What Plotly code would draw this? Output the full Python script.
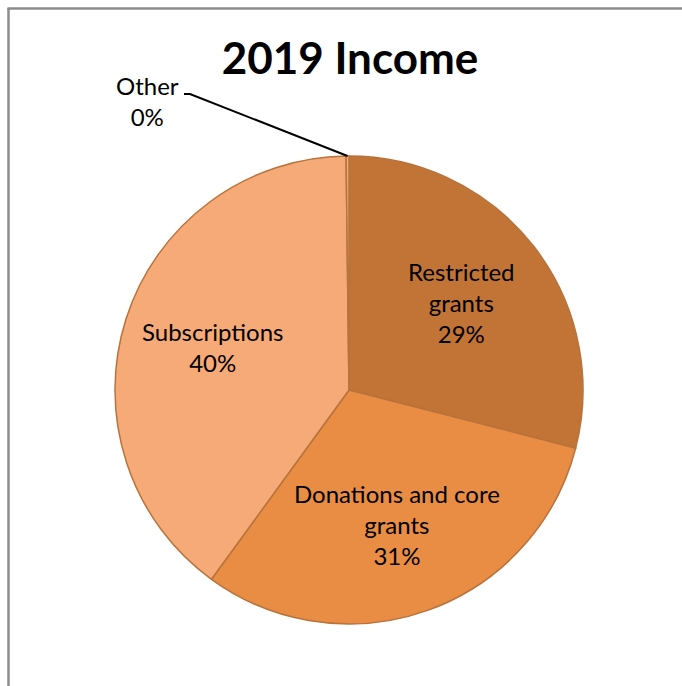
import math
import plotly.graph_objects as go

labels = ["Restricted grants", "Donations and core grants", "Subscriptions", "Other"]
display_labels = ["Restricted<br>grants", "Donations and core<br>grants", "Subscriptions", "Other"]
values = [29.0, 31.0, 39.8, 0.2]
colors = ["#C27436", "#E98D44", "#F6AA78", "#F6AA78"]
title_text = "2019 Income"

W, H = 682, 686
cx_px, cy_px, r_px = 349, 390, 234
label_r = 0.61
FONT = "Lato"

fig = go.Figure(go.Pie(
    labels=labels,
    values=values,
    sort=False,
    direction="clockwise",
    rotation=0,
    marker=dict(colors=colors, line=dict(color="#B8733C", width=1.5)),
    textinfo="none",
    hoverinfo="label+percent",
    showlegend=False,
    domain=dict(x=[(cx_px - r_px) / W, (cx_px + r_px) / W],
                y=[(H - cy_px - r_px) / H, (H - cy_px + r_px) / H]),
))


def px(x):
    return x / W


def py(y):
    return 1 - y / H


total = sum(values)
cum = 0.0
for i, v in enumerate(values):
    mid = (cum + v / 2) / total
    cum += v
    pct = round(v / total * 100)
    if i == 3:
        continue
    th = 2 * math.pi * mid
    lx = cx_px + label_r * r_px * math.sin(th)
    ly = cy_px - label_r * r_px * math.cos(th)
    fig.add_annotation(x=px(lx), y=py(ly), xref="paper", yref="paper",
                       text=f"{display_labels[i]}<br>{pct}%", showarrow=False,
                       font=dict(family=FONT, size=24, color="black"),
                       xanchor="center", yanchor="middle")

# leader line for the tiny "Other" slice, computed from data
mid_frac = (sum(values[:3]) + values[3] / 2) / total
theta = 2 * math.pi * mid_frac
ex = cx_px + r_px * math.sin(theta)
ey = cy_px - r_px * math.cos(theta)

fig.add_shape(type="path",
              path=f"M {px(184)} {py(94)} L {px(190)} {py(94)} L {px(ex)} {py(ey)}",
              xref="paper", yref="paper", line=dict(color="black", width=2))

other_pct = round(values[3] / total * 100)
fig.add_annotation(x=px(147), y=py(101), xref="paper", yref="paper",
                   text=f"{labels[3]}<br>{other_pct}%", showarrow=False,
                   font=dict(family=FONT, size=24, color="black"),
                   xanchor="center", yanchor="middle")

# chart frame
fig.add_shape(type="line", xref="paper", yref="paper",
              x0=px(8.5), y0=py(8), x1=px(8.5), y1=-0.01,
              line=dict(color="#8C8C8C", width=2.5))
fig.add_shape(type="line", xref="paper", yref="paper",
              x0=px(7.5), y0=py(8.5), x1=1.01, y1=py(8.5),
              line=dict(color="#8C8C8C", width=2.5))

fig.update_layout(
    width=W, height=H,
    margin=dict(l=0, r=0, t=0, b=0),
    paper_bgcolor="white",
    plot_bgcolor="white",
    title=dict(text=f"<b>{title_text}</b>", x=px(350), y=py(59),
               xanchor="center", yanchor="middle",
               font=dict(family=FONT, size=44, color="black")),
)

fig.write_html("out.html")
